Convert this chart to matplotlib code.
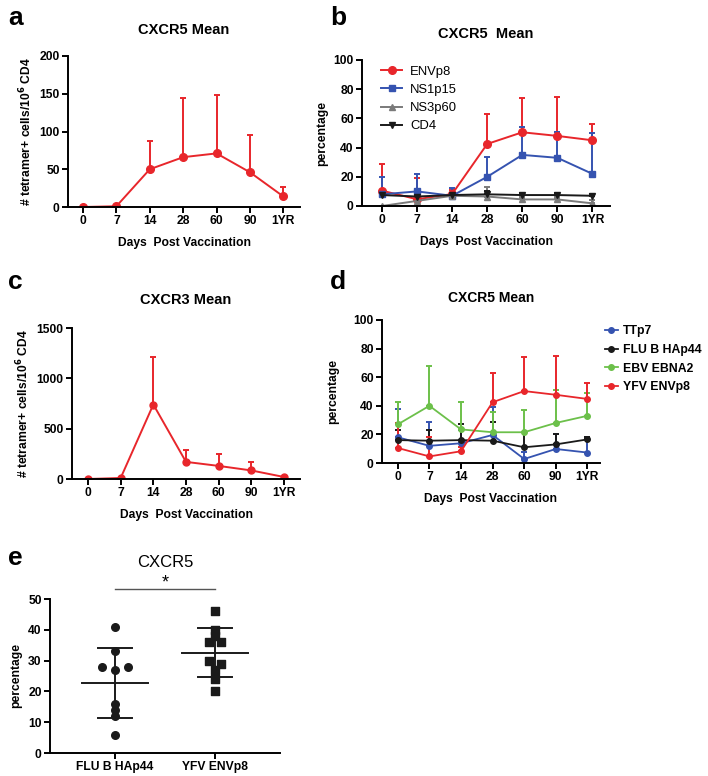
import numpy as np
import matplotlib
matplotlib.use("Agg")
import matplotlib.pyplot as plt
from matplotlib.lines import Line2D

plt.rcParams['font.family'] = ['Liberation Sans', 'DejaVu Sans']
plt.rcParams['font.weight'] = 'bold'

days = ["0", "7", "14", "28", "60", "90", "1YR"]

# panel a: CXCR5 mean (tetramer+ cells / 10^6 CD4)
a_mean = [0, 1, 50, 66, 71, 46, 14]
a_upper = [0, 1, 88, 145, 148, 96, 26]

# panel b: CXCR5 mean (percentage)
b_env = [10.5, 4.6, 8.2, 42.5, 50.5, 48, 45]
b_env_up = [29, 19, 11, 63, 74, 74.5, 56]
b_ns1 = [8, 10, 7, 20, 35, 33, 22]
b_ns1_up = [20, 22, 12, 33.5, 54, 51, 50]
b_ns3 = [0, 3.5, 7, 6.5, 4.5, 4.5, 1.8]
b_ns3_up = [0, 5, 8, 13, 6, 6, 4]
b_cd4 = [7.5, 6.5, 7.5, 8, 7.5, 7.5, 7]
b_cd4_up = [8.5, 7.5, 8.5, 10, 9, 9, 8]

# panel c: CXCR3 mean
c_mean = [0, 10, 740, 170, 130, 85, 20]
c_upper = [0, 10, 1210, 290, 250, 170, 30]

# panel d: CXCR5 mean (percentage)
d_tt = [18, 12, 13.8, 19.6, 2.8, 9.8, 7.3]
d_tt_up = [38, 29, 23, 39, 8, 20, 18.5]
d_flu = [16, 15.6, 16, 15.6, 11, 13, 16.5]
d_flu_up = [23, 23, 27.5, 28.5, 22, 20, 18]
d_ebv = [27, 40, 23.5, 21.5, 21.5, 28, 33]
d_ebv_up = [42.5, 68, 43, 35.6, 37, 51, 49]
d_yfv = [10.5, 4.6, 8.2, 42.5, 50.3, 47.7, 44.8]
d_yfv_up = [28, 18.5, 11, 63, 74, 74.5, 56]

# panel e: CXCR5 percentage per donor
e_groups = ["FLU B HAp44", "YFV ENVp8"]
e_flu = [41, 33, 28, 28, 27, 16, 14, 12, 6]
e_flu_dx = [0, 0, -0.13, 0.13, 0, 0, 0, 0, 0]
e_yfv = [46, 40, 38, 36, 36, 30, 29, 27, 24, 20]
e_yfv_dx = [0, 0, 0, -0.06, 0.06, -0.06, 0.06, 0, 0, 0]

RED = "#e8262b"
BLUE = "#3553b0"
GRAY = "#7a7a7a"
GREEN = "#6cc04a"
BLACK = "#1a1a1a"

TICK = 8.7
LAB = 8.7

W, H = 708, 776
fig = plt.figure(figsize=(W / 100, H / 100), dpi=100)


def add_ax(x0, y0, x1, y1):
    return fig.add_axes([x0 / W, 1 - y1 / H, (x1 - x0) / W, (y1 - y0) / H])


def style(ax):
    for s in ["top", "right"]:
        ax.spines[s].set_visible(False)
    for s in ["left", "bottom"]:
        ax.spines[s].set_linewidth(1.4)
    ax.tick_params(width=1.4, length=4, labelsize=TICK, pad=2)
    for lab in ax.get_xticklabels() + ax.get_yticklabels():
        lab.set_fontweight("bold")


def line(ax, y, up, color, marker, ms, lw=1.4):
    x = np.arange(len(y))
    y = np.array(y, float)
    err = np.clip(np.array(up, float) - y, 0, None)
    ax.errorbar(x, y, yerr=[np.zeros_like(err), err], color=color, marker=marker,
                ms=ms, lw=lw, elinewidth=1.4, capsize=2.5, capthick=1.4)
    return Line2D([], [], color=color, marker=marker, ms=ms, lw=lw)


# a
ax = add_ax(68, 56, 300, 207)
line(ax, a_mean, a_upper, RED, "o", 5.5)
ax.set_xlim(-0.45, 6.5)
ax.set_ylim(0, 200)
ax.set_yticks([0, 50, 100, 150, 200])
ax.set_xticks(range(7))
ax.set_xticklabels(days)
ax.set_title("CXCR5 Mean", fontsize=10.5, fontweight="bold", pad=16)
ax.set_ylabel("# tetramer+ cells/10$^\\mathbf{6}$ CD4", fontsize=LAB, fontweight="bold")
ax.set_xlabel("Days  Post Vaccination", fontsize=LAB, fontweight="bold", labelpad=7)
style(ax)

# b
ax = add_ax(362, 60, 610, 206)
h1 = line(ax, b_env, b_env_up, RED, "o", 5.5)
h2 = line(ax, b_ns1, b_ns1_up, BLUE, "s", 5)
h3 = line(ax, b_ns3, b_ns3_up, GRAY, "^", 4.5)
h4 = line(ax, b_cd4, b_cd4_up, BLACK, "v", 4.5)
ax.set_xlim(-0.57, 6.5)
ax.set_ylim(0, 100)
ax.set_yticks([0, 20, 40, 60, 80, 100])
ax.set_xticks(range(7))
ax.set_xticklabels(days)
ax.set_title("CXCR5  Mean", fontsize=10.5, fontweight="bold", pad=16)
ax.set_ylabel("percentage", fontsize=LAB, fontweight="bold")
ax.set_xlabel("Days  Post Vaccination", fontsize=LAB, fontweight="bold", labelpad=7)
leg = ax.legend([h1, h2, h3, h4], ["ENVp8", "NS1p15", "NS3p60", "CD4"],
                loc="upper left", frameon=False, fontsize=9.4, handlelength=1.6,
                handletextpad=0.6, bbox_to_anchor=(0.03, 1.04), labelspacing=0.45)
for t in leg.get_texts():
    t.set_fontweight("normal")
style(ax)

# c
ax = add_ax(72, 328, 300, 479)
line(ax, c_mean, c_upper, RED, "o", 5)
ax.set_xlim(-0.49, 6.49)
ax.set_ylim(0, 1500)
ax.set_yticks([0, 500, 1000, 1500])
ax.set_xticks(range(7))
ax.set_xticklabels(days)
ax.set_title("CXCR3 Mean", fontsize=10.5, fontweight="bold", pad=17)
ax.set_ylabel("# tetramer+ cells/10$^\\mathbf{6}$ CD4", fontsize=LAB, fontweight="bold")
ax.set_xlabel("Days  Post Vaccination", fontsize=LAB, fontweight="bold", labelpad=7)
style(ax)

# d
ax = add_ax(382, 320, 600, 463)
g1 = line(ax, d_tt, d_tt_up, BLUE, "o", 4, lw=1.3)
g2 = line(ax, d_flu, d_flu_up, BLACK, "o", 4, lw=1.3)
g3 = line(ax, d_ebv, d_ebv_up, GREEN, "o", 4, lw=1.3)
g4 = line(ax, d_yfv, d_yfv_up, RED, "o", 4, lw=1.3)
ax.set_xlim(-0.5, 6.4)
ax.set_ylim(0, 100)
ax.set_yticks([0, 20, 40, 60, 80, 100])
ax.set_xticks(range(7))
ax.set_xticklabels(days)
ax.set_title("CXCR5 Mean", fontsize=10, fontweight="bold", pad=13)
ax.set_ylabel("percentage", fontsize=LAB, fontweight="bold", labelpad=10)
ax.set_xlabel("Days  Post Vaccination", fontsize=LAB, fontweight="bold", labelpad=7)
leg = ax.legend([g1, g2, g3, g4], ["TTp7", "FLU B HAp44", "EBV EBNA2", "YFV ENVp8"],
                loc="upper left", frameon=False, fontsize=8.8, handlelength=1.1,
                handletextpad=0.4, borderaxespad=0, borderpad=0.2,
                bbox_to_anchor=(1.01, 0.98), labelspacing=0.55)
for t in leg.get_texts():
    t.set_fontweight("bold")
style(ax)

# e
ax = add_ax(50, 599, 280, 753)
for i, (vals, dx, mk) in enumerate([(e_flu, e_flu_dx, "o"), (e_yfv, e_yfv_dx, "s")]):
    vals = np.array(vals, float)
    ax.scatter(i + np.array(dx), vals, marker=mk, s=30, color=BLACK, zorder=3)
    m, sd = vals.mean(), vals.std(ddof=1)
    ax.plot([i - 0.33, i + 0.33], [m, m], color=BLACK, lw=1.4)
    ax.plot([i - 0.17, i + 0.17], [m + sd, m + sd], color=BLACK, lw=1.4)
    ax.plot([i - 0.17, i + 0.17], [m - sd, m - sd], color=BLACK, lw=1.4)
    ax.plot([i, i], [m - sd, m + sd], color=BLACK, lw=1.4)
ax.plot([0, 1], [53.2, 53.2], color="#555555", lw=1.0, clip_on=False)
ax.text(0.5, 52.6, "*", ha="center", va="bottom", fontsize=13, fontweight="normal")
ax.set_xlim(-0.65, 1.65)
ax.set_ylim(0, 50)
ax.set_yticks([0, 10, 20, 30, 40, 50])
ax.set_xticks([0, 1])
ax.set_xticklabels(e_groups)
ax.set_title("CXCR5", fontsize=12, fontweight="normal", pad=23)
ax.set_ylabel("percentage", fontsize=LAB, fontweight="bold")
style(ax)

# panel letters
for lab, x, y in [("a", 8, 18), ("b", 330, 18), ("c", 8, 282), ("d", 330, 282), ("e", 8, 558)]:
    fig.text(x / W, 1 - y / H, lab, fontsize=19, fontweight="bold", va="center")

fig.savefig("out.png", dpi=100)
